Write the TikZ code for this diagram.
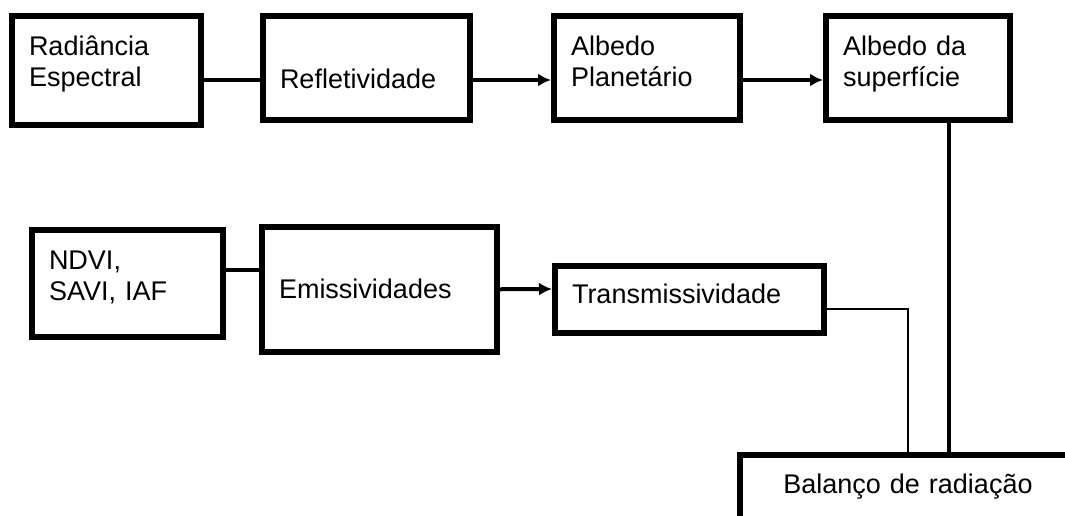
\documentclass[tikz,border=0pt]{standalone}
\usepackage{fontspec}
\setmainfont{Liberation Sans}
\usetikzlibrary{positioning,arrows.meta}

\begin{document}
\begin{tikzpicture}[
    x=1pt, y=-1pt,
    block/.style={draw, line width=6pt, inner xsep=17pt, inner ysep=0pt, align=left, font=\fontsize{27}{31}\selectfont},
    link/.style={line width=4pt},
    thinlink/.style={line width=2.5pt},
    arrow/.style={link, -{Latex[length=13pt,width=13pt]}}
]
\useasboundingbox (0,0) rectangle (1065,515);
\clip (0,0) rectangle (1065,515);

% upper chain
\node[block, anchor=north west, text width=155pt, text height=39pt, text depth=70pt] (rad) at (9,13) {Radiância\\Espectral};
\node[block, right=56pt of rad.north east, anchor=north west, text width=173pt, text height=72pt, text depth=32pt] (ref) {Refletividade};
\node[block, right=78pt of ref.north east, anchor=north west, text width=152pt, text height=39pt, text depth=65pt] (alb) {Albedo\\Planetário};
\node[block, right=80pt of alb.north east, anchor=north west, text width=150pt, text height=39pt, text depth=65pt] (sup) {Albedo da\\superfície};

% lower chain
\node[block, below right=99pt and 20pt of rad.south west, text width=157pt, text height=39pt, text depth=68pt] (ndvi) {NDVI,\\SAVI, IAF};
\node[block, right=33pt of ndvi.north east, anchor=north west, yshift=3.5pt, text width=201pt, text height=71.5pt, text depth=54pt] (emi) {Emissividades};
\node[block, below right=39.5pt and 52pt of emi.north east, text width=235pt, text height=37pt, text depth=30pt] (tra) {Transmissividade};
\node[block, align=center, below right=116pt and 185pt of tra.south west, text width=302pt, text height=38pt, text depth=64pt] (bal) {Balanço de radiação};

\coordinate (supout) at ([xshift=31pt]sup.south);

\draw[link] ([yshift=-9.5pt]rad.east) -- ([yshift=-12pt]ref.west);
\draw[arrow] ([yshift=-12pt]ref.east) -- ([yshift=-12pt]alb.west);
\draw[arrow] ([yshift=-12pt]alb.east) -- ([yshift=-12pt]sup.west);
\draw[link] (supout) -- (supout |- bal.north);
\draw[link] ([yshift=13.5pt]ndvi.east) -- ([yshift=19.25pt]emi.west);
\draw[arrow] (emi.east) -- ([yshift=10.5pt]tra.west);
\draw[thinlink] ([yshift=-9.5pt]tra.east) -| (bal.north);
\end{tikzpicture}
\end{document}
